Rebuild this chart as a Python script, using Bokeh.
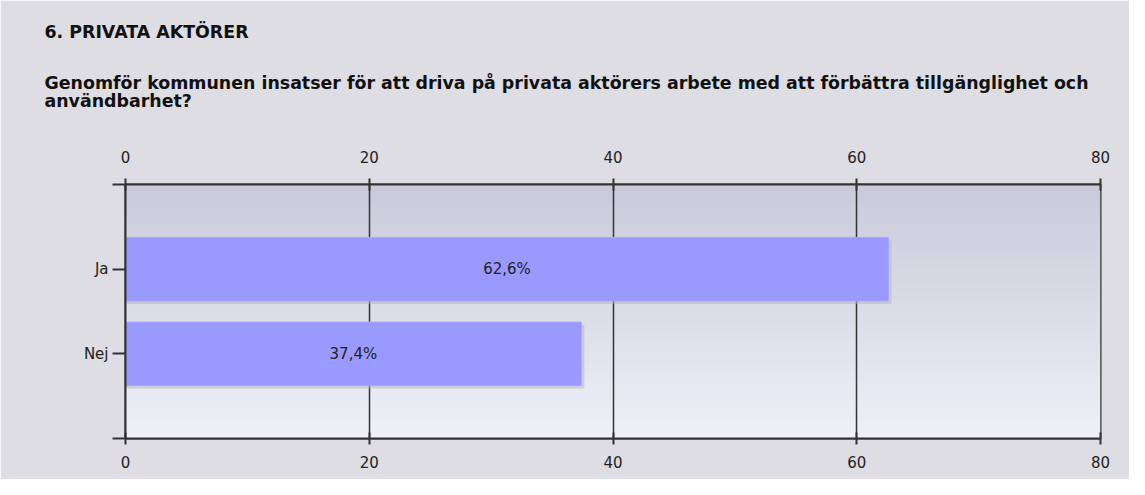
import numpy as np
from bokeh.plotting import figure
from bokeh.models import Range1d, FixedTicker, LinearAxis, Title, ColumnDataSource
from bokeh.embed import file_html
from bokeh.resources import INLINE

# ---- data ----
categories = ["Ja", "Nej"]
values = [62.6, 37.4]
value_labels = ["62,6%", "37,4%"]
x_ticks = [0, 20, 40, 60, 80]
title_text = "6. PRIVATA AKTÖRER"
question_lines = [
    "Genomför kommunen insatser för att driva på privata aktörers arbete med att förbättra tillgänglighet och",
    "användbarhet?",
]

n = len(categories)
ypos = [n - i for i in range(n)]  # Ja on top
src = ColumnDataSource(dict(cat=categories, val=values, y=ypos, lab=value_labels,
                            mid=[v / 2 for v in values]))

W, H = 1129, 479
FL, FR, FT, FB = 125, 29, 184, 41
frame_w = W - FL - FR
frame_h = H - FT - FB
XMAX = 80.0
YMAX = n + 1.0
px_x = XMAX / frame_w
px_y = YMAX / frame_h

FONT = "DejaVu Sans"
BG = "#dedde3"
TSIZE = "17.4px"

p = figure(width=W, height=H, output_backend="svg", toolbar_location=None,
           x_range=Range1d(0, XMAX), y_range=Range1d(0, YMAX),
           x_axis_location="above", min_border_left=FL, min_border_right=FR,
           min_border_top=FT, min_border_bottom=FB)
p.background_fill_color = None
p.border_fill_color = BG
p.outline_line_color = "#333333"
p.outline_line_width = 2

# gradient background of the plot area
rows = 64
top = np.array([202, 202, 218])
bot = np.array([240, 240, 248])
img = np.zeros((rows, 1), dtype=np.uint32)
view = img.view(dtype=np.uint8).reshape((rows, 1, 4))
for r in range(rows):
    t = r / (rows - 1)  # row 0 = bottom
    c = bot * (1 - t) + top * t
    view[r, 0, 0:3] = c.astype(np.uint8)
    view[r, 0, 3] = 255
p.image_rgba(image=[img], x=0, y=0, dw=XMAX, dh=YMAX, level="image")

# bars (with soft shadow)
shadow = ColumnDataSource(dict(y=[v - 3 * px_y for v in ypos], right=[v + 3 * px_x for v in values]))
p.hbar(y="y", left=0, right="right", height=0.75, source=shadow,
       fill_color="#b4b4c0", fill_alpha=0.5, line_color=None)
p.hbar(y="y", left=0, right="val", height=0.75, source=src,
       fill_color="#9999ff", line_color="#a8a8ff", line_width=1)

p.text(x="mid", y="y", text="lab", source=src, text_align="center",
       text_baseline="middle", text_font_size="15px", text_color="#222222",
       text_font={"value": FONT})

# axes
p.xaxis.ticker = FixedTicker(ticks=x_ticks)
bottom_axis = LinearAxis(ticker=FixedTicker(ticks=x_ticks))
p.add_layout(bottom_axis, "below")
for ax, so in [(p.xaxis[0], 16), (bottom_axis, 11)]:
    ax.major_tick_in = 6
    ax.major_tick_out = 6
    ax.minor_tick_in = 0
    ax.minor_tick_out = 0
    ax.axis_line_color = "#333333"
    ax.axis_line_width = 2
    ax.major_tick_line_color = "#333333"
    ax.major_tick_line_width = 2
    ax.major_label_standoff = so
    ax.major_label_text_font = FONT
    ax.major_label_text_font_size = "15px"
    ax.major_label_text_color = "#222222"

ya = p.yaxis[0]
ya.ticker = FixedTicker(ticks=[0] + ypos + [YMAX])
ya.major_label_overrides = {**{0: ""}, **{y: c for y, c in zip(ypos, categories)}, **{int(YMAX): ""}}
ya.major_tick_in = 0
ya.major_tick_out = 13
ya.minor_tick_in = 0
ya.minor_tick_out = 0
ya.axis_line_color = "#333333"
ya.axis_line_width = 2
ya.major_tick_line_color = "#333333"
ya.major_tick_line_width = 2
ya.major_label_standoff = 4
ya.major_label_text_font = FONT
ya.major_label_text_font_size = "15px"
ya.major_label_text_color = "#222222"

p.xgrid.grid_line_color = "#333333"
p.xgrid.grid_line_width = 1.5
p.ygrid.grid_line_color = None

# titles stacked above the top axis (added nearest-first)
p.add_layout(Title(text="\n".join(question_lines) + "\n", text_font=FONT, text_font_size=TSIZE,
                   text_font_style="bold", text_color="#111111", text_line_height=0.9,
                   align="left", offset=44 - FL, standoff=37), "above")
p.add_layout(Title(text=title_text, text_font=FONT, text_font_size=TSIZE,
                   text_font_style="bold", text_color="#111111",
                   align="left", offset=44 - FL, standoff=21), "above")

open("out.html", "w").write(file_html(p, INLINE))
